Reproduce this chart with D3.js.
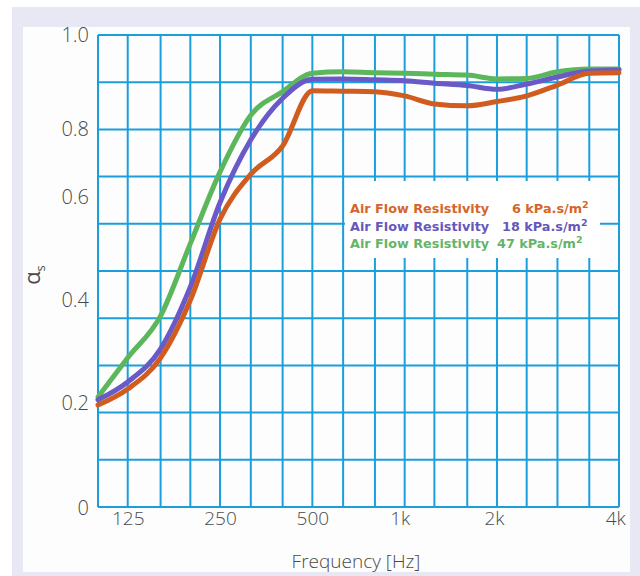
<!DOCTYPE html>
<html><head><meta charset="utf-8">
<script src="https://cdn.jsdelivr.net/npm/d3@7"></script>
<style>body{margin:0;background:#fff}svg{display:block}</style>
</head><body>
<svg id="c" width="640" height="576"></svg>
<script>
// ---- data ----
const freqs = [100,125,160,200,250,315,400,500,630,800,1000,1250,1600,2000,2500,3150,4000,5000];
const afr6  = [0.216,0.250,0.316,0.438,0.610,0.705,0.765,0.882,0.881,0.880,0.871,0.854,0.850,0.859,0.871,0.894,0.919,0.920];
const afr18 = [0.227,0.265,0.335,0.466,0.645,0.778,0.866,0.906,0.907,0.905,0.903,0.898,0.893,0.885,0.896,0.911,0.924,0.926];
const afr47 = [0.233,0.316,0.405,0.558,0.710,0.830,0.880,0.919,0.922,0.920,0.919,0.917,0.915,0.907,0.908,0.922,0.928,0.928];
const seriesNames = ["Air Flow Resistivity","Air Flow Resistivity","Air Flow Resistivity"];
const seriesValues = ["6","18","47"];
const xTickValues = [125,250,500,1000,2000,4000];
const xTickLabels = ["125","250","500","1k","2k","4k"];
const yTickValues = [0,0.2,0.4,0.6,0.8,1.0];
const yTickLabels = ["0","0.2","0.4","0.6","0.8","1.0"];
const yGridValues = [0,0.1,0.2,0.3,0.4,0.5,0.6,0.7,0.8,0.9,1.0];

const svg = d3.select("#c");
const FONT = "'Open Sans', Lato, sans-serif";
const LFONT = "'DejaVu Sans', Verdana, sans-serif";

// frame
svg.append("rect").attr("x",12).attr("y",7).attr("width",628).attr("height",569).attr("fill","#e7e8f4");
svg.append("rect").attr("x",23).attr("y",27).attr("width",607).attr("height",545).attr("fill","#fdfdfe");

const x = d3.scaleLog().domain([100,5000]).range([98,619]);
const y = d3.scaleLinear().domain([0,1]).range([507,35]);
// tick label positions as printed on the original
const yLab = d3.scaleLinear().domain(yTickValues).range([508,403,300,197,129,35]);

const gridColor = "#1b9fdc";
const g = svg.append("g");
g.selectAll("line.v").data(freqs).join("line")
  .attr("x1",d=>x(d)).attr("x2",d=>x(d)).attr("y1",y(0)).attr("y2",y(1))
  .attr("stroke",gridColor).attr("stroke-width",2);
g.selectAll("line.h").data(yGridValues).join("line")
  .attr("x1",x(100)).attr("x2",x(5000)).attr("y1",d=>y(d)).attr("y2",d=>y(d))
  .attr("stroke",gridColor).attr("stroke-width",2);

// legend background box
svg.append("rect").attr("x",345).attr("y",181).attr("width",255).attr("height",77).attr("fill","#fff");

// curves
const series = [
  {vals:afr47, color:"#5cb65b"},
  {vals:afr18, color:"#6a5ac8"},
  {vals:afr6,  color:"#d05d1f"}
];
const line = d3.line().x((d,i)=>x(freqs[i])).y(d=>y(d)).curve(d3.curveMonotoneX);
svg.selectAll("path.s").data(series).join("path")
  .attr("d",d=>line(d.vals)).attr("fill","none").attr("stroke",d=>d.color)
  .attr("stroke-width",5).attr("stroke-linejoin","round").attr("stroke-linecap","round");

// axes labels
const yAxis = d3.axisLeft(yLab).tickValues(yTickValues).tickSize(0).tickPadding(0)
  .tickFormat((d,i)=>yTickLabels[i]);
const ya = svg.append("g").attr("transform","translate(89,0)").call(yAxis);
ya.select(".domain").remove();
ya.selectAll("text").attr("font-family",FONT).attr("font-weight",300).attr("font-size",20).attr("fill","#4a4a4a");

const xAxis = d3.axisBottom(x).tickValues(xTickValues).tickSize(0).tickPadding(0)
  .tickFormat((d,i)=>xTickLabels[i]);
const xa = svg.append("g").attr("transform","translate(0,511)").call(xAxis);
xa.select(".domain").remove();
xa.selectAll("text").attr("font-family",FONT).attr("font-weight",300).attr("font-size",19).attr("fill","#4a4a4a")
  .attr("dx",d=>d===4000?26:(d===1000?-5:(d===2000?-3:0)));

svg.append("text").attr("x",356).attr("y",568).attr("text-anchor","middle")
  .attr("font-family",FONT).attr("font-weight",300).attr("font-size",19).attr("fill","#4a4a4a").text("Frequency [Hz]");

const yl = svg.append("text").attr("transform","translate(40,275) rotate(-90)")
  .attr("text-anchor","middle").attr("font-family",FONT).attr("font-size",22).attr("fill","#4a4a4a");
yl.append("tspan").text("α");
yl.append("tspan").attr("font-size",13).attr("dy",5).text("s");

// legend
const legColors = ["#d6652a","#6658bb","#66b466"];
const legY = [213,231,248];
const valX = [512,502,497];
seriesNames.forEach((n,i)=>{
  const t = svg.append("text").attr("x",350).attr("y",legY[i]).attr("font-family",LFONT)
    .attr("font-weight","bold").attr("font-size",12.8).attr("fill",legColors[i]);
  t.append("tspan").text(n);
  t.append("tspan").attr("x",valX[i]).text(seriesValues[i]+" kPa.s/m");
  t.append("tspan").attr("dy",-5).attr("font-size",9.5).text("2");
});

// right strip of frame over clipped label
svg.append("rect").attr("x",630).attr("y",7).attr("width",10).attr("height",569).attr("fill","#e7e8f4");
</script>
</body></html>
